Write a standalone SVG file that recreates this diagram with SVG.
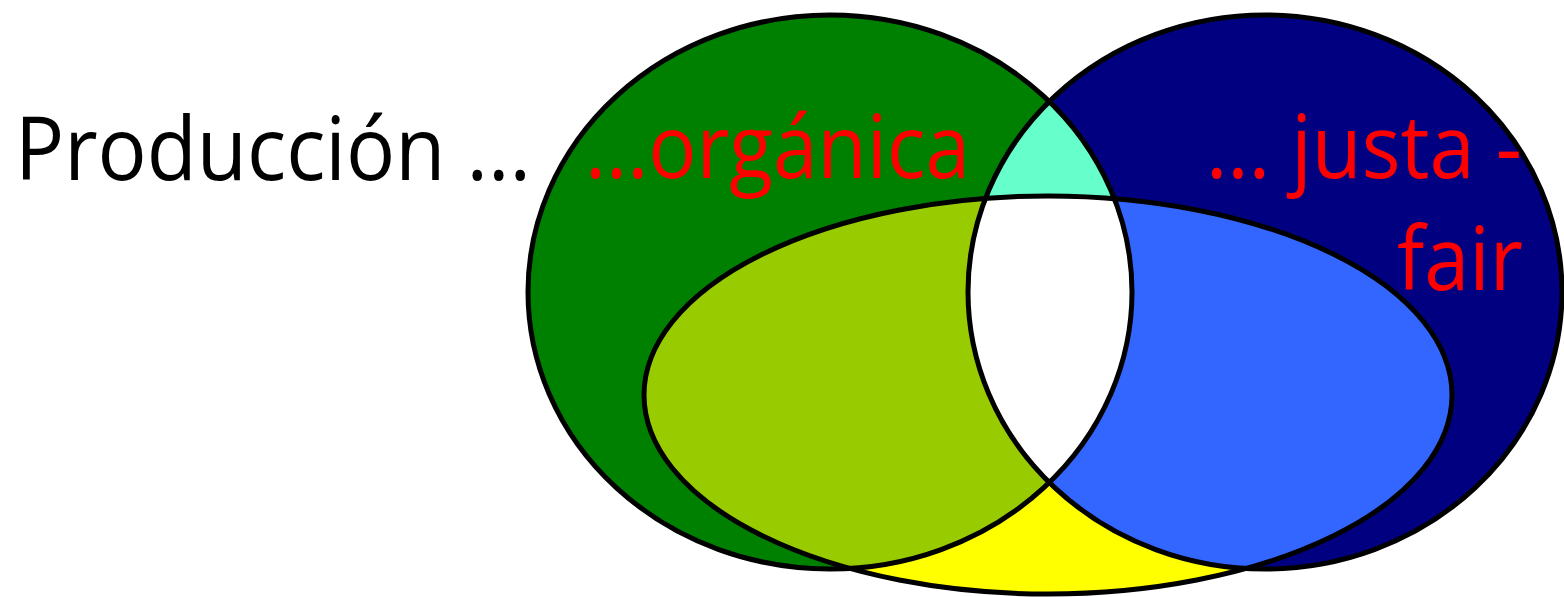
<svg xmlns="http://www.w3.org/2000/svg" width="1564" height="597" viewBox="0 0 1564 597">
<style>
.outline{fill:none;stroke:#000;stroke-width:5}
.lbl{font-family:"Open Sans","Noto Sans","Liberation Sans",sans-serif;font-size:88px}
.red{fill:#FF0000}
</style>
<defs>
<clipPath id="cG"><ellipse cx="830" cy="292" rx="302" ry="277"/></clipPath>
<clipPath id="cN"><ellipse cx="1265" cy="292" rx="297" ry="277"/></clipPath>
<clipPath id="cY"><ellipse cx="1048" cy="395" rx="404" ry="199"/></clipPath>
</defs>
<rect width="1564" height="597" fill="#fff"/>
<g id="set-organica">
<ellipse cx="830" cy="292" rx="302" ry="277" fill="#008000"/>
</g>
<g id="set-justa">
<ellipse cx="1265" cy="292" rx="297" ry="277" fill="#000080"/>
</g>
<g id="set-bottom">
<ellipse cx="1048" cy="395" rx="404" ry="199" fill="#FFFF00"/>
</g>
<g id="intersections">
<g clip-path="url(#cG)"><ellipse cx="1048" cy="395" rx="404" ry="199" fill="#99CC00"/></g>
<g clip-path="url(#cN)"><ellipse cx="1048" cy="395" rx="404" ry="199" fill="#3366FF"/></g>
<g clip-path="url(#cG)"><ellipse cx="1265" cy="292" rx="297" ry="277" fill="#66FFCC"/></g>
<g clip-path="url(#cG)"><g clip-path="url(#cN)"><ellipse cx="1048" cy="395" rx="404" ry="199" fill="#FFFFFF"/></g></g>
</g>
<g id="outlines">
<ellipse class="outline" cx="830" cy="292" rx="302" ry="277"/>
<ellipse class="outline" cx="1265" cy="292" rx="297" ry="277"/>
<ellipse class="outline" cx="1048" cy="395" rx="404" ry="199"/>
</g>
<g id="labels">
<text class="lbl" x="15" y="180" textLength="516" lengthAdjust="spacingAndGlyphs" fill="#000">Producción ...</text>
<text class="lbl red" x="585" y="178" textLength="385" lengthAdjust="spacingAndGlyphs">...orgánica</text>
<text class="lbl red" x="1206" y="178" textLength="316" lengthAdjust="spacingAndGlyphs">... justa -</text>
<text class="lbl red" x="1397" y="290" textLength="126" lengthAdjust="spacingAndGlyphs">fair</text>
</g>
</svg>
